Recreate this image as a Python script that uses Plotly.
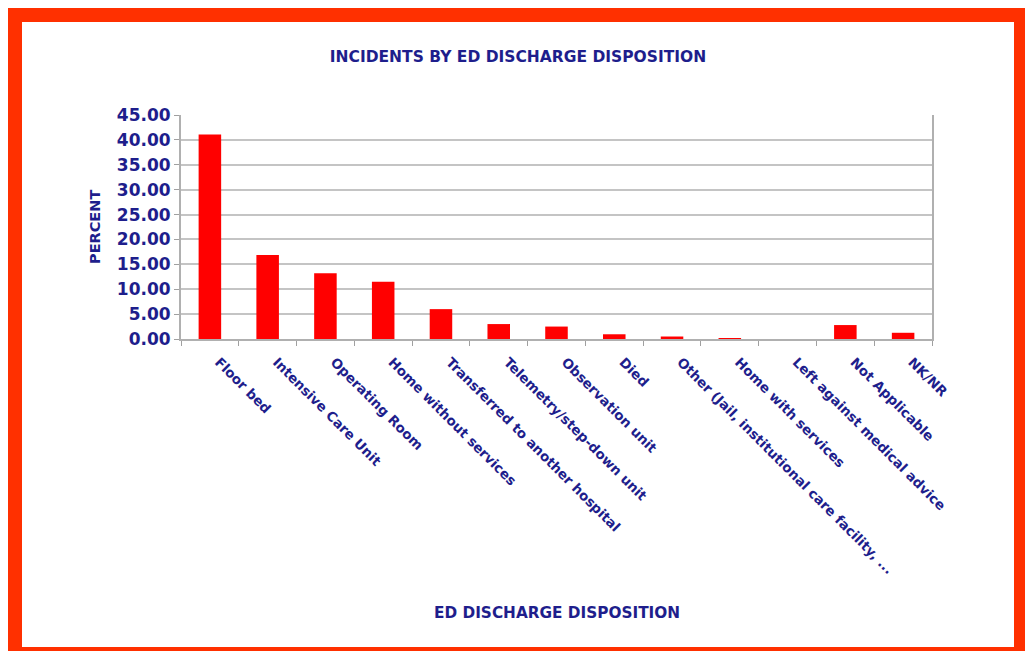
import plotly.graph_objects as go

categories = [
    "Floor bed", "Intensive Care Unit", "Operating Room", "Home without services",
    "Transferred to another hospital", "Telemetry/step-down unit", "Observation unit",
    "Died", "Other (Jail, institutional care facility, ...", "Home with services",
    "Left against medical advice", "Not Applicable", "NK/NR",
]
percent = [41.1, 16.9, 13.2, 11.5, 6.0, 3.0, 2.5, 0.95, 0.5, 0.15, 0.0, 2.8, 1.25]
y_ticks = [0, 5, 10, 15, 20, 25, 30, 35, 40, 45]

OFF = 8  # page body margin
W, H = 1033 - OFF, 651 - OFF
L, R, T, B = 181 - OFF, 932 - OFF, 115 - OFF, 339 - OFF  # plot area in figure px

def px_x(x):
    return (x - OFF - L) / (R - L)

def px_y(y):
    return (B - (y - OFF)) / (B - T)

navy = "#1e1e8c"
font_family = "DejaVu Sans"

fig = go.Figure(go.Bar(
    x=categories, y=percent, width=0.39,
    marker=dict(color="#ff0000", line=dict(width=0)),
))

shapes = [
    dict(type="rect", xref="paper", yref="paper", layer="below",
         x0=px_x(8), x1=px_x(1045), y0=px_y(8), y1=px_y(665),
         fillcolor="#ff3000", line=dict(width=0)),
    dict(type="rect", xref="paper", yref="paper", layer="below",
         x0=px_x(22), x1=px_x(1014), y0=px_y(22), y1=px_y(647),
         fillcolor="#ffffff", line=dict(width=0)),
]

fig.update_layout(
    width=W, height=H,
    margin=dict(l=L, r=W - R, t=T, b=H - B, pad=0),
    paper_bgcolor="#ffffff", plot_bgcolor="rgba(0,0,0,0)",
    showlegend=False,
    font=dict(family=font_family, color=navy),
    shapes=shapes,
    title=dict(text="<b>INCIDENTS BY ED DISCHARGE DISPOSITION</b>",
               x=px_x(518), xref="paper", xanchor="center",
               y=1 - (57 - OFF) / H, yref="container", yanchor="middle",
               font=dict(size=15.5, color=navy, family=font_family)),
    annotations=[
        dict(text="<b>PERCENT</b>", xref="paper", yref="paper",
             x=px_x(95), y=px_y(227), showarrow=False, textangle=-90,
             xanchor="center", yanchor="middle",
             font=dict(size=14.5, color=navy, family=font_family)),
        dict(text="<b>ED DISCHARGE DISPOSITION</b>", xref="paper", yref="paper",
             x=px_x(557), y=px_y(613), showarrow=False,
             xanchor="center", yanchor="middle",
             font=dict(size=15.3, color=navy, family=font_family)),
    ],
)

fig.update_xaxes(
    type="category", range=[-0.5, len(categories) - 0.5],
    tickangle=45, tickson="boundaries", ticks="outside", ticklen=5,
    tickcolor="#a0a0a0", showline=True, linecolor="#b0b0b0", linewidth=2,
    mirror=False, showgrid=False,
    ticklabelstandoff=8, ticklabelshift=9,
    tickvals=categories, ticktext=[f"<b>{c}</b>" for c in categories],
    tickfont=dict(size=13.5, color=navy, family=font_family),
)
fig.update_yaxes(
    range=[0, 45], tickvals=y_ticks, ticktext=[f"<b>{v:.2f}</b>" for v in y_ticks],
    ticks="outside", ticklen=5, tickcolor="#a0a0a0",
    showline=True, linecolor="#b0b0b0", linewidth=2, mirror=True,
    showgrid=True, gridcolor="#c4c4c4", gridwidth=2, zeroline=False,
    tickfont=dict(size=17, color=navy, family=font_family),
)

fig.write_html("out.html")
